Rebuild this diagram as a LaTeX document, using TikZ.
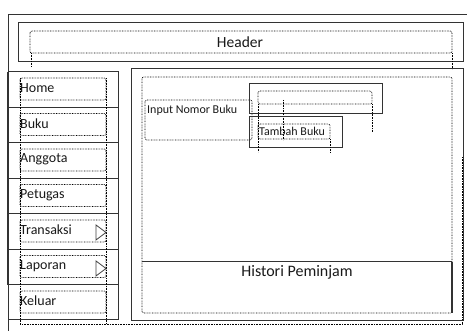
\documentclass[tikz,border=0pt]{standalone}
\usepackage{fontspec}
\setmainfont{Carlito}
\begin{document}
\begin{tikzpicture}[x=1pt,y=-1pt,
  solid line/.style={draw=black!80,line width=1pt},
  dot line/.style={draw=black,dash pattern=on 0.7pt off 0.9pt,line width=0.7pt},
  dotbox/.style={draw=black,dash pattern=on 0.7pt off 0.9pt,line width=0.7pt,rounded corners=2pt},
  lbl/.style={inner sep=0pt,anchor=west,text=black!90},
  mitem/.style={lbl,font=\fontsize{14}{15}\selectfont},
  small/.style={lbl,font=\fontsize{12}{13}\selectfont}]
\useasboundingbox (0,0) rectangle (467,331);
% outer frame
\draw[solid line] (8,331) -- (8,15) -- (467,15);
% header
\draw[solid line] (18,23) rectangle (463,62);
\draw[dotbox] (30,31) rectangle (452,53);
\draw[dot line] (31,53) -- (31,66);
\draw[dot line] (452,53) -- (452,69);
\node[inner sep=0pt,font=\fontsize{15.5}{16}\selectfont,text=black!90] (header) at (240,42) {Header};
% menu
\draw[solid line] (8,72) rectangle (118,320);
\draw[line width=1.6pt,black!80] (8,72) -- (8,285);
\foreach \y in {107.5,143,178.5,214,249.5,285} \draw[solid line] (8,\y) -- (118,\y);
\foreach \y in {72,107.5,143,178.5,214,249.5,285} \draw[dotbox] (20,\y+6) rectangle (106,\y+28);
\draw[dot line] (20,78) -- (20,324) -- (462,324) -- (462,157);
\draw[dot line] (106,78) -- (106,324);
\node[mitem] (home) at (20,88) {Home};
\node[mitem] (buku) at (20,124) {Buku};
\node[mitem] (anggota) at (20,159) {Anggota};
\node[mitem] (petugas) at (20,195) {Petugas};
\node[mitem] (transaksi) at (20,230) {Transaksi};
\node[mitem] (laporan) at (20,266) {Laporan};
\node[mitem] (keluar) at (20,301) {Keluar};
\draw[draw=black!75,line width=0.8pt] (96,225) -- (106,232.5) -- (96,240) -- cycle;
\draw[draw=black!75,line width=0.8pt] (96,261) -- (106,268.5) -- (96,276) -- cycle;
% content
\draw[solid line] (131,69) rectangle (463,321);
\draw[dotbox] (142,77) rectangle (452,313);
\draw[dotbox] (145,100) rectangle (252,140);
\node[small] (input) at (147,110) {Input Nomor Buku};
\draw[solid line] (249,84) rectangle (382,114);
\draw[dotbox] (258,91) rectangle (372,104);
\draw[dot line] (372,104) -- (372,132);
\draw[dot line] (283,100) -- (283,140);
\draw[solid line] (249,117) rectangle (342,148);
\draw[dotbox] (258,124) rectangle (330,139);
\draw[dot line] (258,104) -- (258,152);
\draw[dot line] (330,139) -- (330,152);
\node[small] (tambah) at (259,131) {Tambah Buku};
\draw[solid line] (142,262) -- (452,262);
\draw[line width=1.6pt,black!80] (452,262) -- (452,313);
\node[inner sep=0pt,font=\fontsize{16}{17}\selectfont,text=black!90] (histori) at (297,272) {Histori Peminjam};
\end{tikzpicture}
\end{document}
